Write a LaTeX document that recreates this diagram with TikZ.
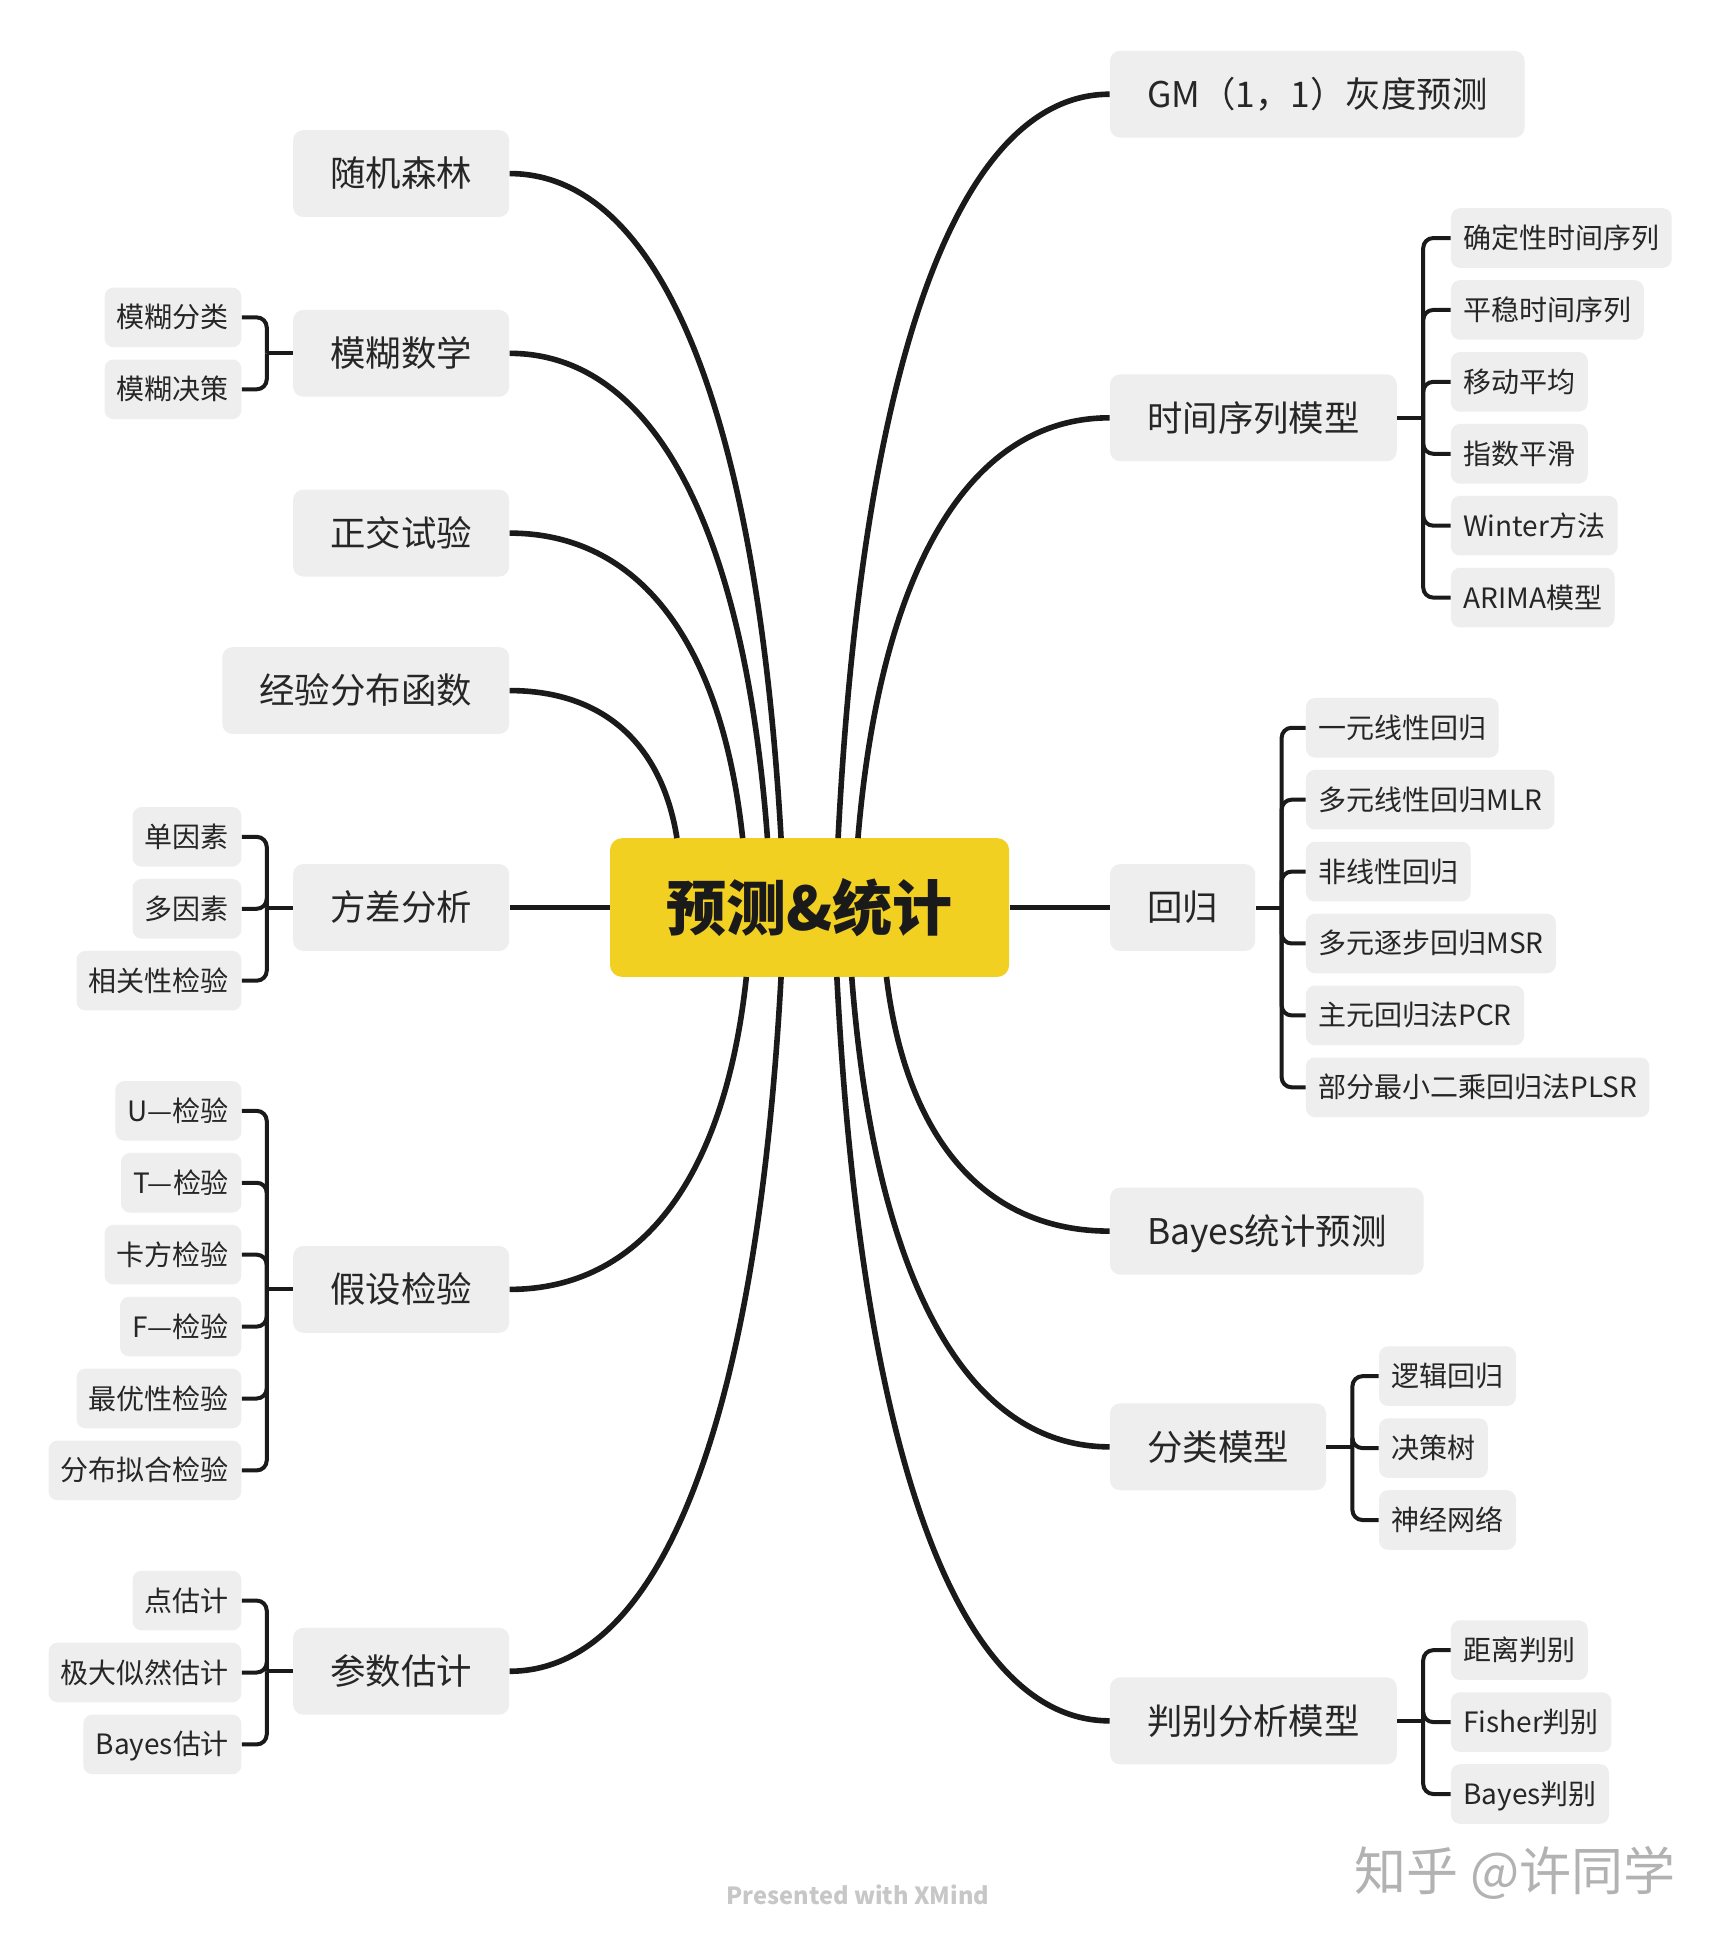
\documentclass[tikz,border=0pt]{standalone}
\usepackage{fontspec}
\setmainfont{Noto Sans CJK SC}
\usetikzlibrary{calc}
\definecolor{nodegray}{HTML}{EEEEEE}
\definecolor{topicyellow}{HTML}{F2D022}
\definecolor{inktext}{HTML}{262626}
\definecolor{lineink}{HTML}{1A1A1A}
\begin{document}
\begin{tikzpicture}[x=0.62pt,y=-0.62pt,
  maintopic/.style={fill=nodegray, rounded corners=5pt, minimum height=43.4pt, inner xsep=18.6pt, inner ysep=0pt, text=inktext, font=\fontsize{17.7}{20}\selectfont, text height=14.2pt, text depth=0.9pt},
  subtopic/.style={fill=nodegray, rounded corners=4.5pt, minimum height=29.8pt, inner xsep=6.2pt, inner ysep=0pt, text=inktext, font=\fontsize{14}{16}\selectfont, text height=11.2pt, text depth=0.7pt},
  centraltopic/.style={fill=topicyellow, rounded corners=6pt, minimum width=199.6pt, minimum height=69.4pt, inner sep=0pt, text=lineink, font=\fontsize{30}{34}\selectfont\bfseries, text height=24pt, text depth=1.5pt},
  branch/.style={draw=lineink, line width=2.8pt},
  twig/.style={draw=lineink, line width=2pt, rounded corners=5pt},
  curvy/.style={to path={.. controls ($(\tikztostart)!0.55!(\tikztotarget |- \tikztostart)$) and ($(\tikztotarget)!0.65!($(\tikztotarget |- \tikztostart)!0.14!(\tikztostart)$)$) .. (\tikztotarget)}},
]
\fill[white] (0,0) rectangle (1387,1568);
\path[use as bounding box] (0,0) rectangle (1387,1568);

% central
\node[centraltopic] (c) at (653,732) {预测\&统计};

% entry points on central node
\coordinate (e-rf) at (630,676);
\coordinate (e-fm) at (619,676);
\coordinate (e-zj) at (599,676);
\coordinate (e-jy) at (546,676);
\coordinate (e-gm) at (676,676);
\coordinate (e-ts) at (692,676);
\coordinate (e-js) at (602,788);
\coordinate (e-cs) at (630,788);
\coordinate (e-pb) at (675,788);
\coordinate (e-fl) at (687,788);
\coordinate (e-by) at (715,788);

% left main topics
\node[maintopic, anchor=east] (rf) at (411,140) {随机森林};
\node[maintopic, anchor=east] (fm) at (411,285) {模糊数学};
\node[maintopic, anchor=east] (zj) at (411,430) {正交试验};
\node[maintopic, anchor=east] (jy) at (411,557) {经验分布函数};
\node[maintopic, anchor=east] (fc) at (411,732) {方差分析};
\node[maintopic, anchor=east] (js) at (411,1040) {假设检验};
\node[maintopic, anchor=east] (cs) at (411,1348) {参数估计};

% right main topics
\node[maintopic, anchor=west] (gm) at (895,76) {GM（1，1）灰度预测};
\node[maintopic, anchor=west] (ts) at (895,337) {时间序列模型};
\node[maintopic, anchor=west] (hg) at (895,732) {回归};
\node[maintopic, anchor=west] (by) at (895,993) {Bayes统计预测};
\node[maintopic, anchor=west] (fl) at (895,1167) {分类模型};
\node[maintopic, anchor=west] (pb) at (895,1388) {判别分析模型};

% main branches
\draw[branch] (rf.east) to[curvy] (e-rf);
\draw[branch] (fm.east) to[curvy] (e-fm);
\draw[branch] (zj.east) to[curvy] (e-zj);
\draw[branch] (jy.east) to[curvy] (e-jy);
\draw[branch] (fc.east) -- (c.west);
\draw[branch] (js.east) to[curvy] (e-js);
\draw[branch] (cs.east) to[curvy] (e-cs);
\draw[branch] (gm.west) to[curvy] (e-gm);
\draw[branch] (ts.west) to[curvy] (e-ts);
\draw[branch] (hg.west) -- (c.east);
\draw[branch] (by.west) to[curvy] (e-by);
\draw[branch] (fl.west) to[curvy] (e-fl);
\draw[branch] (pb.west) to[curvy] (e-pb);

% junctions
\draw[twig] (fm.west) -- ++(-21,0) coordinate (j-fm);
\draw[twig] (fc.west) -- ++(-21,0) coordinate (j-fc);
\draw[twig] (js.west) -- ++(-21,0) coordinate (j-js);
\draw[twig] (cs.west) -- ++(-21,0) coordinate (j-cs);
\draw[twig] (ts.east) -- ++(21,0) coordinate (j-ts);
\draw[twig] (hg.east) -- ++(21,0) coordinate (j-hg);
\draw[twig] (fl.east) -- ++(21,0) coordinate (j-fl);
\draw[twig] (pb.east) -- ++(21,0) coordinate (j-pb);

% left subtopics
\foreach \t/\yy/\n in {模糊分类/256/fm1, 模糊决策/314/fm2} {
  \node[subtopic, anchor=east] (\n) at (195,\yy) {\t};
  \draw[twig] (j-fm) |- (\n.east);
}
\foreach \t/\yy/\n in {单因素/675/fc1, 多因素/733/fc2, 相关性检验/791/fc3} {
  \node[subtopic, anchor=east] (\n) at (195,\yy) {\t};
  \draw[twig] (j-fc) |- (\n.east);
}
\foreach \t/\yy/\n in {U—检验/896/js1, T—检验/954/js2, 卡方检验/1012/js3, F—检验/1070/js4, 最优性检验/1128/js5, 分布拟合检验/1186/js6} {
  \node[subtopic, anchor=east] (\n) at (195,\yy) {\t};
  \draw[twig] (j-js) |- (\n.east);
}
\foreach \t/\yy/\n in {点估计/1291/cs1, 极大似然估计/1349/cs2, Bayes估计/1407/cs3} {
  \node[subtopic, anchor=east] (\n) at (195,\yy) {\t};
  \draw[twig] (j-cs) |- (\n.east);
}

% right subtopics
\foreach \t/\yy/\n in {确定性时间序列/192/ts1, 平稳时间序列/250/ts2, 移动平均/308/ts3, 指数平滑/366/ts4, Winter方法/424/ts5, ARIMA模型/482/ts6} {
  \node[subtopic, anchor=west] (\n) at (1170,\yy) {\t};
  \draw[twig] (j-ts) |- (\n.west);
}
\foreach \t/\yy/\n in {一元线性回归/587/hg1, 多元线性回归MLR/645/hg2, 非线性回归/703/hg3, 多元逐步回归MSR/761/hg4, 主元回归法PCR/819/hg5, 部分最小二乘回归法PLSR/877/hg6} {
  \node[subtopic, anchor=west] (\n) at (1053,\yy) {\t};
  \draw[twig] (j-hg) |- (\n.west);
}
\foreach \t/\yy/\n in {逻辑回归/1110/fl1, 决策树/1168/fl2, 神经网络/1226/fl3} {
  \node[subtopic, anchor=west] (\n) at (1112,\yy) {\t};
  \draw[twig] (j-fl) |- (\n.west);
}
\foreach \t/\yy/\n in {距离判别/1331/pb1, Fisher判别/1389/pb2, Bayes判别/1447/pb3} {
  \node[subtopic, anchor=west] (\n) at (1170,\yy) {\t};
  \draw[twig] (j-pb) |- (\n.west);
}

% footer
\node[text=black!22, font=\fontsize{11.8}{13}\selectfont\bfseries] (xm) at (692,1528) {Presented with XMind};
\node[text=black!30, font=\fontsize{26}{29}\selectfont] (wm) at (1222,1511) {知乎 @许同学};
\end{tikzpicture}
\end{document}
